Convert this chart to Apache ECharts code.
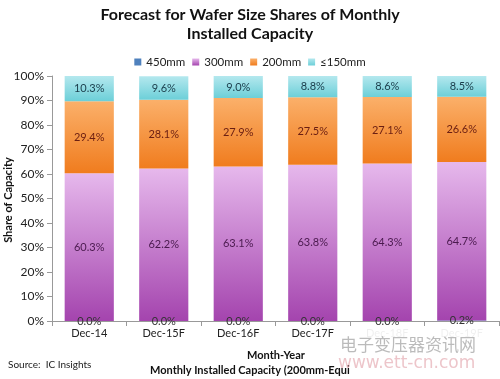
<!DOCTYPE html>
<html><head><meta charset="utf-8">
<script src="https://cdn.jsdelivr.net/npm/echarts@6/dist/echarts.min.js"></script>
<style>html,body{margin:0;padding:0;background:#fff}#c{width:500px;height:379px}</style>
</head><body><div id="c"></div>
<script>
const categories = ['Dec-14','Dec-15F','Dec-16F','Dec-17F','Dec-18F','Dec-19F'];
const s450 = [0.0, 0.0, 0.0, 0.0, 0.0, 0.2];
const s300 = [60.3, 62.2, 63.1, 63.8, 64.3, 64.7];
const s200 = [29.4, 28.1, 27.9, 27.5, 27.1, 26.6];
const s150 = [10.3, 9.6, 9.0, 8.8, 8.6, 8.5];
const yTicks = [0,10,20,30,40,50,60,70,80,90,100];

const FONT = 'Lato';
function grad(a,b){return {type:'linear',x:0,y:0,x2:0,y2:1,colorStops:[{offset:0,color:a},{offset:1,color:b}]};}
const lbl = (c)=>({show:true,position:'inside',color:c,fontSize:11,fontFamily:FONT,formatter:p=>p.value.toFixed(1)+'%'});

const chart = echarts.init(document.getElementById('c'));
chart.setOption({
  animation:false,
  title:{text:'Forecast for Wafer Size Shares of Monthly\nInstalled Capacity',left:'center',top:0,
    textStyle:{fontFamily:FONT,fontSize:16,fontWeight:'bold',color:'#111',lineHeight:19}},
  legend:{top:51,left:'center',itemWidth:7,itemHeight:7,itemGap:7,icon:'rect',
    textStyle:{fontFamily:FONT,fontSize:11.5,color:'#222'},
    data:['450mm','300mm','200mm','≤150mm']},
  grid:{left:52,right:1,top:76,bottom:58,outerBoundsMode:'none',containLabel:false},
  xAxis:{type:'category',data:categories,
    axisLine:{lineStyle:{color:'#999'}},axisTick:{show:true,lineStyle:{color:'#999'}},
    axisLabel:{color:'#222',fontFamily:FONT,fontSize:11,margin:7}},
  yAxis:{type:'value',min:0,max:100,interval:10,
    splitLine:{show:false},
    axisLine:{show:true,lineStyle:{color:'#999'}},axisTick:{show:true,lineStyle:{color:'#999'}},
    axisLabel:{color:'#222',fontFamily:FONT,fontSize:12,formatter:v=>yTicks.includes(v)?v+'%':''}},
  series:[
    {name:'450mm',type:'bar',stack:'a',data:s450,barWidth:'66%',
      itemStyle:{color:'#4f81bd'},label:lbl('#333')},
    {name:'300mm',type:'bar',stack:'a',data:s300,
      itemStyle:{color:grad('#e6b8ec','#a444ae')},label:lbl('#4a1a4e')},
    {name:'200mm',type:'bar',stack:'a',data:s200,
      itemStyle:{color:grad('#fbb06a','#f07c1e')},label:lbl('#6a1e12')},
    {name:'≤150mm',type:'bar',stack:'a',data:s150,
      itemStyle:{color:grad('#b4e8ee','#6ccfd8')},label:lbl('#1a3c4a')}
  ],
  graphic:[
    {type:'text',x:8,y:200,rotation:Math.PI/2,style:{text:'Share of Capacity',font:'bold 11px '+FONT,fill:'#111',align:'center',verticalAlign:'middle'}},
    {type:'text',left:247,top:350,style:{text:'Month-Year',font:'bold 11px '+FONT,fill:'#111'}},
    {type:'text',left:150,top:365,style:{text:'Monthly Installed Capacity (200mm-Equi',font:'bold 11px '+FONT,fill:'#111'}},
    {type:'text',left:8,top:360,style:{text:'Source:  IC Insights',font:'10px '+FONT,fill:'#222'}},
    {type:'rect',z:100,zlevel:1,shape:{x:345,y:328,width:154,height:13},style:{fill:'rgba(255,255,255,0.93)'}},
    {type:'text',z:101,zlevel:1,left:340,top:336,style:{text:'电子变压器资讯网',font:'17px "Noto Sans CJK SC"',fill:'rgba(120,120,120,0.5)'}},
    {type:'text',z:101,zlevel:1,left:338,top:355,style:{text:'www.ett-cn.com',font:'17px "DejaVu Sans"',fill:'rgba(220,140,150,0.5)'}}
  ]
});
</script></body></html>
